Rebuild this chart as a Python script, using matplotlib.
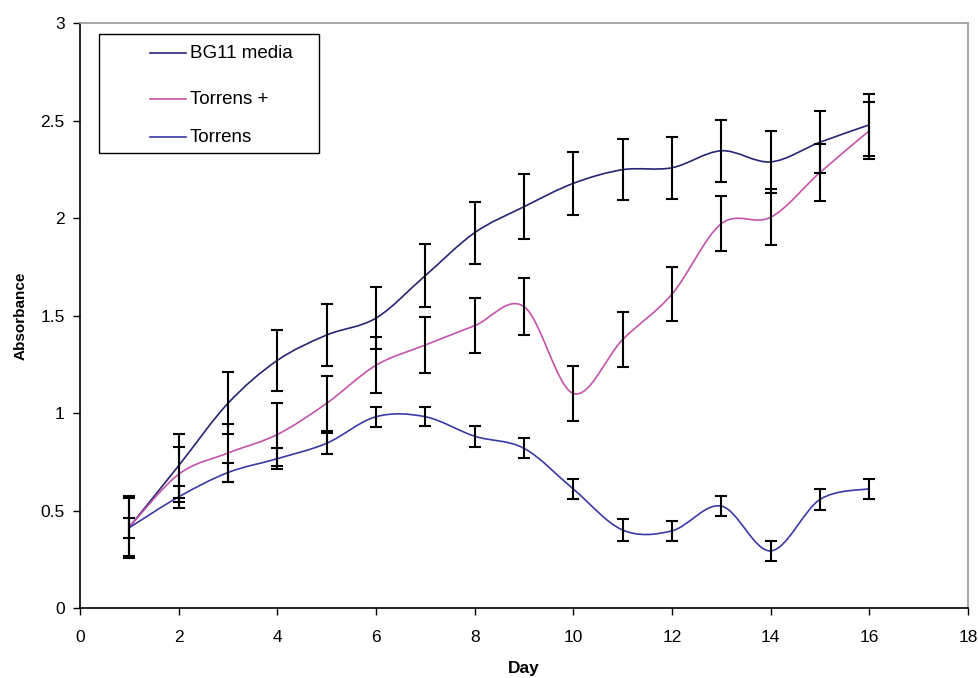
import matplotlib
matplotlib.use("Agg")
import matplotlib.pyplot as plt
from matplotlib.path import Path
from matplotlib.patches import PathPatch, Rectangle

plt.rcParams['font.family'] = ['Liberation Sans', 'DejaVu Sans']

# --- data ---
days = [1, 2, 3, 4, 5, 6, 7, 8, 9, 10, 11, 12, 13, 14, 15, 16]

bg11 = [0.415, 0.73, 1.05, 1.27, 1.40, 1.487, 1.705, 1.925, 2.058, 2.178,
        2.248, 2.258, 2.345, 2.288, 2.389, 2.478]
bg11_err = [0.15, 0.165, 0.158, 0.158, 0.159, 0.159, 0.162, 0.159, 0.167, 0.161,
            0.158, 0.159, 0.159, 0.159, 0.16, 0.16]

torrens_plus = [0.415, 0.686, 0.795, 0.89, 1.05, 1.245, 1.349, 1.448, 1.546, 1.10,
                1.377, 1.61, 1.971, 2.004, 2.234, 2.448]
torrens_plus_err = [0.16, 0.14, 0.15, 0.16, 0.14, 0.143, 0.143, 0.14, 0.145, 0.139,
                    0.143, 0.14, 0.14, 0.143, 0.145, 0.145]

torrens = [0.412, 0.57, 0.695, 0.766, 0.845, 0.981, 0.981, 0.881, 0.819, 0.61,
           0.40, 0.396, 0.523, 0.293, 0.557, 0.612]
torrens_err = [0.052, 0.056, 0.05, 0.053, 0.055, 0.051, 0.05, 0.054, 0.051, 0.052,
               0.056, 0.05, 0.051, 0.052, 0.055, 0.051]

labels = ['BG11 media', 'Torrens +', 'Torrens']
colors = ['#252574', '#C453AC', '#3A3AA6']


def smooth_path(xs, ys):
    """Excel-style smoothed line: Catmull-Rom segments as cubic Beziers."""
    pts = list(zip(xs, ys))
    verts = [pts[0]]
    codes = [Path.MOVETO]
    n = len(pts)
    for i in range(n - 1):
        p0 = pts[i - 1] if i > 0 else pts[i]
        p1 = pts[i]
        p2 = pts[i + 1]
        p3 = pts[i + 2] if i + 2 < n else pts[i + 1]
        c1 = (p1[0] + (p2[0] - p0[0]) / 6, p1[1] + (p2[1] - p0[1]) / 6)
        c2 = (p2[0] - (p3[0] - p1[0]) / 6, p2[1] - (p3[1] - p1[1]) / 6)
        verts += [c1, c2, p2]
        codes += [Path.CURVE4] * 3
    return Path(verts, codes)


fig = plt.figure(figsize=(9.79, 6.78), dpi=100)
ax = fig.add_axes([0.0817, 0.1032, 0.9071, 0.8628])

series = [(bg11, bg11_err), (torrens_plus, torrens_plus_err), (torrens, torrens_err)]
for (vals, err), col in zip(series, colors):
    ax.add_patch(PathPatch(smooth_path(days, vals), fill=False, edgecolor=col,
                           lw=1.2, zorder=3))
for vals, err in series:
    ax.errorbar(days, vals, yerr=err, fmt='none', ecolor='black',
                elinewidth=1.5, capsize=4, capthick=1.5, zorder=4)

ax.set_xlim(0, 18)
ax.set_ylim(0, 3)
ax.set_xticks(range(0, 19, 2))
ax.set_yticks([0, 0.5, 1, 1.5, 2, 2.5, 3])
ax.set_yticklabels(['0', '0.5', '1', '1.5', '2', '2.5', '3'])
ax.tick_params(direction='out', length=5, width=1, labelsize=12.5)
ax.tick_params(axis='x', pad=11)
ax.tick_params(axis='y', pad=6)

for s in ['left', 'bottom']:
    ax.spines[s].set_color('black')
    ax.spines[s].set_linewidth(1.2)
for s in ['top', 'right']:
    ax.spines[s].set_color('#999999')
    ax.spines[s].set_linewidth(1.2)

ax.set_xlabel('Day', fontsize=12.5, fontweight='bold', labelpad=11)
ax.set_ylabel('Absorbance', fontsize=11, fontweight='bold', labelpad=9)

# legend drawn by hand to match the box layout
ax.add_patch(Rectangle((0.0214, 0.7778), 0.2477, 0.2034, transform=ax.transAxes,
                       fill=True, facecolor='white', edgecolor='black', lw=1.0,
                       zorder=5))
row_y = [0.9487, 0.8701, 0.8051]
for lab, col, ry in zip(labels, colors, row_y):
    ax.plot([0.0788, 0.1194], [ry, ry], color=col, lw=1.2,
            transform=ax.transAxes, zorder=6)
    ax.text(0.1235, ry, lab, transform=ax.transAxes, fontsize=13.5,
            va='center', ha='left', zorder=6)

fig.savefig('out.png', dpi=100)
